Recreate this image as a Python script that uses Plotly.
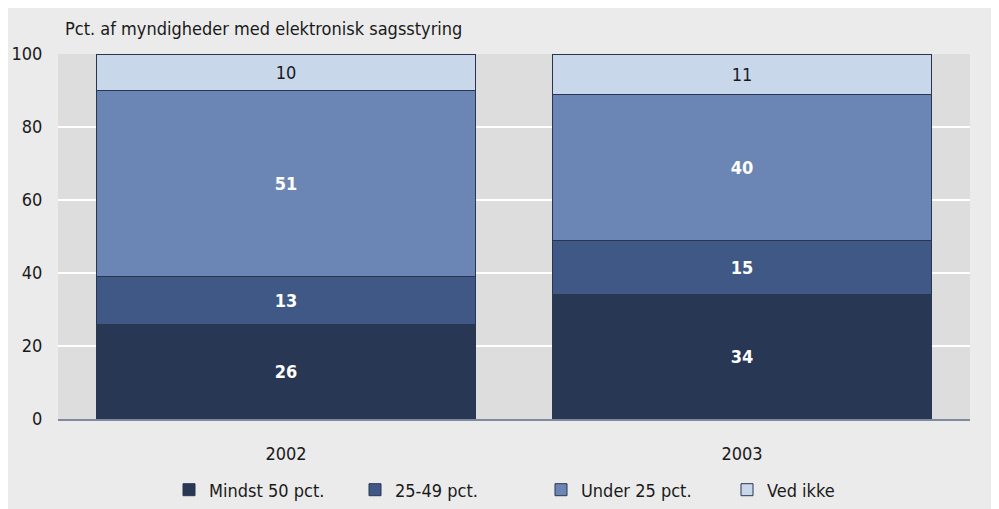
import plotly.graph_objects as go

years = ["2002", "2003"]
series_names = ["Mindst 50 pct.", "25-49 pct.", "Under 25 pct.", "Ved ikke"]
mindst50 = [26, 34]
p25_49 = [13, 15]
under25 = [51, 40]
ved_ikke = [10, 11]
yticks = [0, 20, 40, 60, 80, 100]
title_text = "Pct. af myndigheder med elektronisk sagsstyring"

colors = ["#283754", "#405885", "#6b86b4", "#c8d7ea"]
text_colors = ["white", "white", "white", "#1a1a1a"]
text_weights = ["bold", "bold", "bold", "normal"]
values = [mindst50, p25_49, under25, ved_ikke]
FONT = "DejaVu Sans Condensed, Liberation Sans Narrow, Liberation Sans, sans-serif"

fig = go.Figure()
for name, vals, col, tcol, tw in zip(series_names, values, colors, text_colors, text_weights):
    fig.add_trace(go.Bar(
        x=years, y=vals, name=name,
        marker=dict(color=col, line=dict(color="#2a3550", width=1)),
        text=[str(v) for v in vals], textposition="inside",
        insidetextanchor="middle",
        textfont=dict(color=tcol, size=18, family=FONT, weight=tw),
        width=0.83,
    ))

# figure sits inside the page with an 8px body margin
W, H = 991, 501
L, R, T, B = 50, 29, 46, 90
pw, ph = W - L - R, H - T - B

def fx(p):  # screen x -> paper
    return (p - 8 - L) / pw

def fy(p):  # screen y -> paper
    return (H - B - (p - 8)) / ph

fig.update_layout(
    width=W, height=H,
    barmode="stack",
    margin=dict(l=L, r=R, t=T, b=B, pad=0, autoexpand=False),
    paper_bgcolor="#ebebeb",
    plot_bgcolor="#dddddd",
    font=dict(family=FONT, size=18, color="#1a1a1a"),
    showlegend=True,
    legend=dict(orientation="h", x=fx(169), xanchor="left",
                y=fy(490), yanchor="middle",
                font=dict(size=18, family=FONT), traceorder="normal",
                bgcolor="rgba(0,0,0,0)", itemwidth=30, entrywidth=141),
    annotations=[dict(text=title_text, xref="paper", yref="paper",
                      x=fx(63), y=fy(28), xanchor="left", yanchor="middle",
                      showarrow=False, font=dict(size=18, family=FONT))],
    xaxis=dict(showgrid=False, showline=True, linecolor="#7f8aa0", linewidth=2,
               ticks="outside", ticklen=17, tickcolor="rgba(0,0,0,0)",
               tickfont=dict(size=18, family=FONT)),
    yaxis=dict(range=[0, 100], tickvals=yticks, showgrid=True,
               gridcolor="white", gridwidth=2, zeroline=False,
               ticks="outside", ticklen=11, tickcolor="rgba(0,0,0,0)",
               tickfont=dict(size=18, family=FONT)),
)

fig.write_html("out.html")
